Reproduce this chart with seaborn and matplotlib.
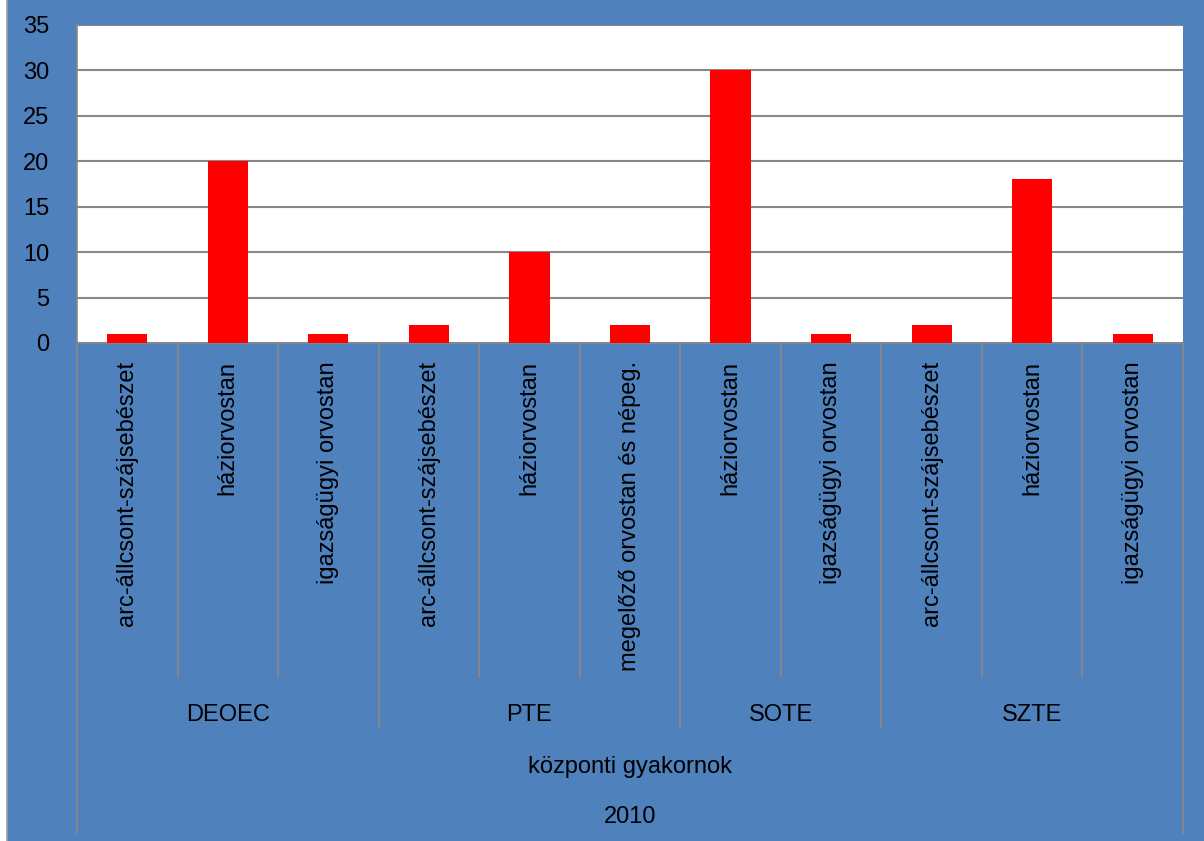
import matplotlib
matplotlib.use("Agg")
import matplotlib.pyplot as plt
import matplotlib.transforms as mtransforms
from matplotlib.patches import Rectangle
import pandas as pd
import seaborn as sns

# data
groups = ["DEOEC", "DEOEC", "DEOEC", "PTE", "PTE", "PTE", "SOTE", "SOTE", "SZTE", "SZTE", "SZTE"]
specialties = ["arc-állcsont-szájsebészet", "háziorvostan", "igazságügyi orvostan",
               "arc-állcsont-szájsebészet", "háziorvostan", "megelőző orvostan és népeg.",
               "háziorvostan", "igazságügyi orvostan",
               "arc-állcsont-szájsebészet", "háziorvostan", "igazságügyi orvostan"]
values = [1, 20, 1, 2, 10, 2, 30, 1, 2, 18, 1]
level2 = "központi gyakornok"
level3 = "2010"

BLUE = "#4F81BD"
GRID = "#888888"

df = pd.DataFrame({"pos": [str(i) for i in range(len(values))], "value": values})

sns.set_style("white")
plt.rcParams["font.family"] = ["Liberation Sans", "DejaVu Sans"]
plt.rcParams["text.color"] = "black"
plt.rcParams["xtick.labelcolor"] = "black"
plt.rcParams["ytick.labelcolor"] = "black"

fig = plt.figure(figsize=(12.04, 8.41), dpi=100)
fig.patch.set_facecolor("white")
fig.patches.append(Rectangle((7 / 1204, -0.01), 1.02, 1.02, transform=fig.transFigure,
                             facecolor=BLUE, edgecolor="#A0A0A0", linewidth=1.2, zorder=-10))

ax = fig.add_axes([77 / 1204, 1 - 343 / 841, (1183 - 77) / 1204, 318 / 841])
ax.set_zorder(5)
ax.set_facecolor("white")

sns.barplot(data=df, x="pos", y="value", color="#FF0000", width=0.4,
            saturation=1, linewidth=0, ax=ax, zorder=3)

ax.set_ylim(0, 35)
ax.set_yticks(range(0, 36, 5))
ax.set_xlim(-0.5, len(values) - 0.5)
ax.yaxis.grid(True, color=GRID, linewidth=1.5, zorder=0)
ax.set_axisbelow(True)
for s in ["top", "right", "bottom"]:
    ax.spines[s].set_visible(False)
ax.spines["left"].set_color(GRID)
ax.spines["left"].set_linewidth(1.2)
ax.tick_params(axis="y", length=9, width=1.2, color=GRID, labelsize=17, pad=11,
               labelcolor="black")
ax.set_xticks(range(len(values)))
ax.set_xticklabels(specialties, rotation=90, fontsize=17, va="top", ha="center")
ax.tick_params(axis="x", length=0, pad=13, labelcolor="black")
ax.set_xlabel("")
ax.set_ylabel("")

trans = mtransforms.blended_transform_factory(ax.transData, ax.transAxes)
line_kw = dict(color=GRID, linewidth=1.3, transform=trans, clip_on=False)

# bottom axis line
ax.plot([-0.5, len(values) - 0.5], [0, 0], **line_kw)

# separators between single categories
bounds = [i - 0.5 for i in range(1, len(values)) if groups[i] == groups[i - 1]]
for b in bounds:
    ax.plot([b, b], [0, -1.05], **line_kw)

# separators between groups
gbounds = [i - 0.5 for i in range(1, len(values)) if groups[i] != groups[i - 1]]
for b in gbounds:
    ax.plot([b, b], [0, -1.21], **line_kw)

# outer edges
for b in [-0.5, len(values) - 0.5]:
    ax.plot([b, b], [0, -1.54], **line_kw)

# group labels
start = 0
for i in range(1, len(values) + 1):
    if i == len(values) or groups[i] != groups[start]:
        ax.text((start + i - 1) / 2, -1.17, groups[start], transform=trans,
                ha="center", va="center", fontsize=17, color="black")
        start = i

mid = (len(values) - 1) / 2
ax.text(mid, -1.333, level2, transform=trans, ha="center", va="center", fontsize=17, color="black")
ax.text(mid, -1.491, level3, transform=trans, ha="center", va="center", fontsize=17, color="black")

fig.savefig("out.png", dpi=100, facecolor=fig.get_facecolor())
